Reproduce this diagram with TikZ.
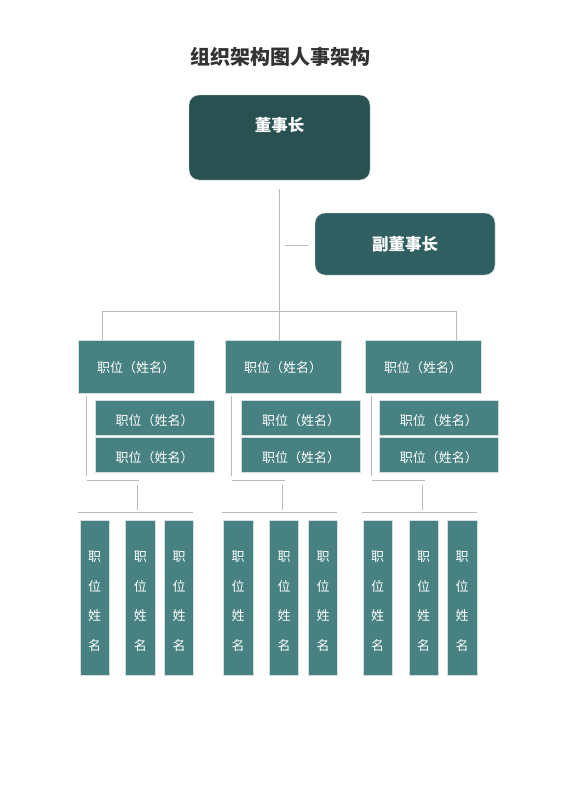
\documentclass[tikz,border=0pt]{standalone}
\usepackage{fontspec}
\setmainfont{Noto Sans CJK SC}
\begin{document}
\begin{tikzpicture}[x=1pt,y=1pt,
  conn/.style={draw=black!27,line width=0.9pt},
  topbox/.style={fill=#1,draw=white!80!#1,line width=0.4pt,rounded corners=10pt,inner sep=0pt},
  lvbox/.style={fill=lvc,draw=white!75!lvc,line width=0.5pt,inner sep=0pt,text=white,font=\fontsize{13}{15}\selectfont,minimum width=116pt,minimum height=53pt,text height=12.8pt,text depth=0pt},
  subbox/.style={fill=lvc,draw=white!75!lvc,line width=0.5pt,inner sep=0pt,text=white,font=\fontsize{13}{15}\selectfont,minimum width=119pt,minimum height=34.6pt,text height=15.8pt,text depth=0pt},
  vbox/.style={fill=lvc,draw=white!75!lvc,line width=0.5pt,inner sep=0pt,text=white,font=\fontsize{13}{29.4}\selectfont,align=center,minimum width=29.3pt,minimum height=154.3pt,text width=29.3pt},
]
\definecolor{chc}{HTML}{2A5151}
\definecolor{vcc}{HTML}{2F5F60}
\definecolor{lvc}{HTML}{478181}
\useasboundingbox (0,0) rectangle (560,-792);
\fill[white] (0,0) rectangle (560,-792);
% title
\node[text=black!80,font=\fontsize{20}{24}\selectfont\bfseries] (title) at (280,-57) {组织架构图人事架构};
% chairman
\node[topbox=chc,minimum width=181pt,minimum height=85pt] (ch) at (279.5,-137.5) {};
\node[text=white,font=\fontsize{16.5}{20}\selectfont\bfseries] (cht) at (279.5,-125) {董事长};
% vice chairman
\node[topbox=vcc,minimum width=180pt,minimum height=62pt,text=white,font=\fontsize{16.5}{20}\selectfont\bfseries] (vc) at (405,-244) {副董事长};
% level 2
\node[lvbox] (a) at (136,-366.5) {职位（姓名）};
\node[lvbox] (b) at (283,-366.5) {职位（姓名）};
\node[lvbox] (c) at (423,-366.5) {职位（姓名）};
% sub boxes
\node[subbox] (a1) at (154.5,-418) {职位（姓名）};
\node[subbox] (a2) at (154.5,-455) {职位（姓名）};
\node[subbox] (b1) at (301.2,-418) {职位（姓名）};
\node[subbox] (b2) at (301.2,-455) {职位（姓名）};
\node[subbox] (c1) at (438.8,-418) {职位（姓名）};
\node[subbox] (c2) at (438.8,-455) {职位（姓名）};
% vertical boxes
\foreach \n/\x in {a/94.7,b/140.3,c/179,d/238.2,e/284,f/323,g/377.7,h/423.5,i/462.2}{
  \node[vbox] (v\n) at (\x,-597.85) {\rule{0pt}{17.5pt}职\\位\\姓\\名};
}
% coordinates
\coordinate (chs) at (279.3,-189);
\coordinate (hub) at (279.3,-311);
\coordinate (hl) at (102,-311);
\coordinate (hr) at (456,-311);
\coordinate (vcl1) at (285,-245);
\coordinate (vcl2) at (308,-245);
% main connectors
\draw[conn] (chs) -- (hub);
\draw[conn] (vcl1) -- (vcl2);
\draw[conn] (hl) -- (hr);
\draw[conn] (hl) -- (hl |- a.north);
\draw[conn] (hub) -- (hub |- b.north);
\draw[conn] (hr) -- (hr |- c.north);
% group connectors
\foreach \g/\sx/\hx/\ll/\lr in {a/86/137.7/78.3/193.3, b/231.7/282.7/222.3/337.3, c/371.7/422.7/361.7/476.7}{
  \coordinate (\g s1) at (\sx,-396);
  \coordinate (\g s2) at (\sx,-476);
  \coordinate (\g h1) at (\sx+0.7,-480);
  \coordinate (\g h2) at (\sx+53.3,-480);
  \coordinate (\g d1) at (\hx,-485);
  \coordinate (\g d2) at (\hx,-510);
  \coordinate (\g l1) at (\ll,-512.7);
  \coordinate (\g l2) at (\lr,-512.7);
  \draw[conn] (\g s1) -- (\g s2);
  \draw[conn] (\g h1) -- (\g h2);
  \draw[conn] (\g d1) -- (\g d2);
  \draw[conn] (\g l1) -- (\g l2);
}
\end{tikzpicture}
\end{document}
